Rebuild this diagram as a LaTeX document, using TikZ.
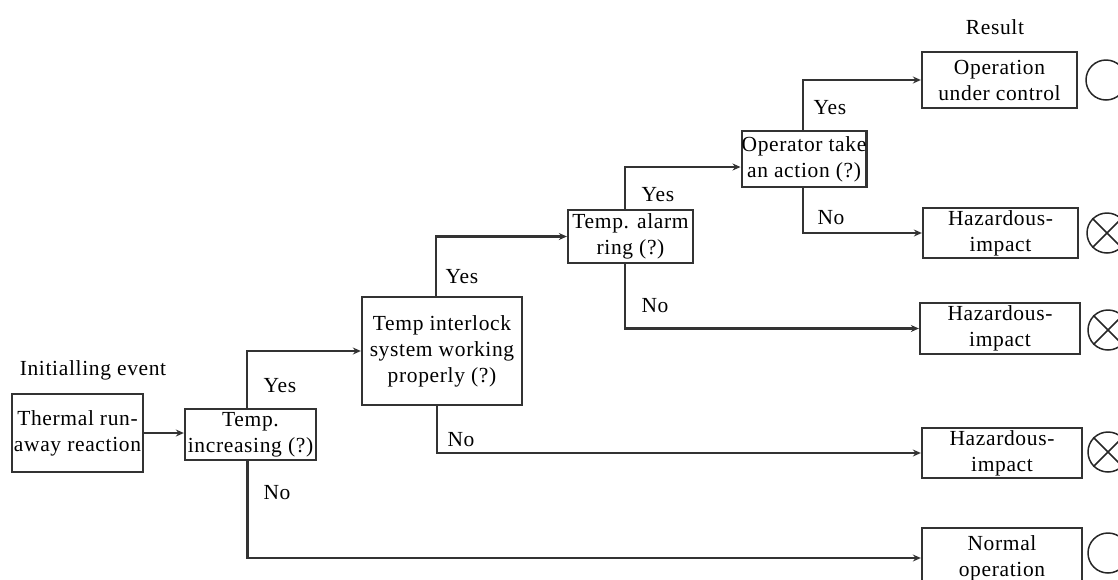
\documentclass[tikz,border=0pt]{standalone}
\usepackage{fontspec}
\setmainfont[LetterSpace=3]{Liberation Serif}
\usetikzlibrary{arrows.meta}
\begin{document}
\begin{tikzpicture}[x=1pt,y=-1pt,
  every node/.style={font=\fontsize{21.5}{26}\selectfont, inner sep=0pt},
  box/.style={draw=black!80, line width=2.3pt, align=center},
  conn/.style={draw=black!80, line width=2.1pt, -{Stealth[length=8pt,width=7pt]}},
  outcome/.style={circle, draw=black!85, line width=1.5pt, minimum size=40pt}]
\useasboundingbox (0,0) rectangle (1118,579);

% event boxes
\node[box, minimum width=131pt, minimum height=78pt] (thermal) at (77.5,433) {Thermal run-\\away reaction};
\node[box, minimum width=131pt, minimum height=51pt] (tempinc) at (250.5,434.5) {Temp.\\increasing (?)};
\node[box, minimum width=160pt, minimum height=108pt] (interlock) at (442,351) {Temp interlock\\system working\\properly (?)};
\node[box, minimum width=125pt, minimum height=53pt] (alarm) at (630.5,236.5) {Temp. alarm\\ring (?)};
\node[box, minimum width=124pt, minimum height=56pt] (operator) at (804,159) {Operator take\\an action (?)};

% outcome boxes
\node[box, minimum width=155pt, minimum height=56pt] (opctrl) at (999.5,80) {Operation\\under control};
\node[box, minimum width=155pt, minimum height=50pt] (haz1) at (1000.5,233) {Hazardous-\\impact};
\node[box, minimum width=160pt, minimum height=51pt] (haz2) at (1000,328.5) {Hazardous-\\impact};
\node[box, minimum width=160pt, minimum height=50pt] (haz3) at (1002,453) {Hazardous-\\impact};
\node[box, minimum width=160pt, minimum height=60pt] (normal) at (1002,558) {Normal\\operation};

% result symbols
\node[outcome] (r1) at (1106,80) {};
\node[outcome] (r2) at (1107,233) {};
\node[outcome] (r3) at (1108,330) {};
\node[outcome] (r4) at (1108,452) {};
\node[outcome] (r5) at (1108,553) {};
\foreach \r in {r2,r3,r4}{
  \draw[black!85, line width=1.5pt] (\r.north east) -- (\r.south west)
                                     (\r.north west) -- (\r.south east);
}

% headings
\node (initlbl) at (93,370) {Initialling event};
\node (reslbl) at (995,27) {Result};

% connectors
\draw[conn] (thermal.east) -- (thermal.east -| tempinc.west);
\draw[conn] ([xshift=-3.5pt]tempinc.north) |- (interlock.west);
\draw[conn] ([xshift=-3pt]tempinc.south) |- (normal.west);
\draw[conn] ([xshift=-6pt]interlock.north) |- (alarm.west);
\draw[conn] ([xshift=-5pt]interlock.south) |- (haz3.west);
\draw[conn] ([xshift=-5.5pt]alarm.north) |- ([yshift=-8pt]operator.west);
\draw[conn] ([xshift=-5.5pt]alarm.south) |- (haz2.west);
\draw[conn] ([xshift=-1pt]operator.north) |- (opctrl.west);
\draw[conn] ([xshift=-1pt]operator.south) |- (haz1.west);

% branch labels
\node (y1) at (280,386) {Yes};
\node (n1) at (277,493) {No};
\node (y2) at (462,277) {Yes};
\node (n2) at (461,440) {No};
\node (y3) at (658,195) {Yes};
\node (n3) at (655,306) {No};
\node (y4) at (830,108) {Yes};
\node (n4) at (831,218) {No};
\end{tikzpicture}
\end{document}
